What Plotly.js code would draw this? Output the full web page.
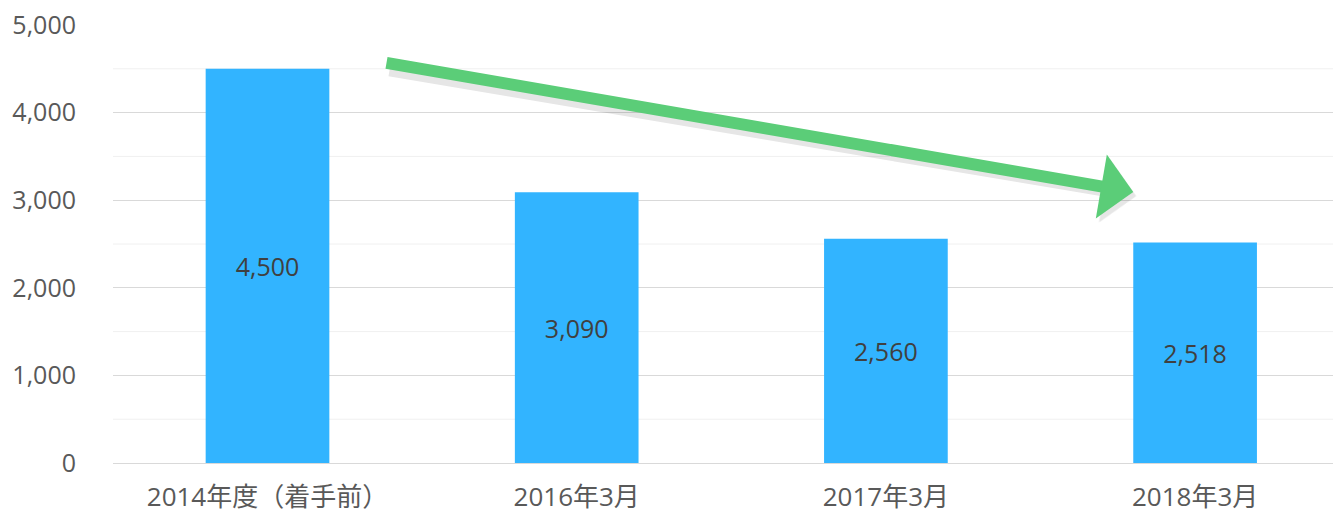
<!DOCTYPE html>
<html>
<head>
<meta charset="utf-8">
<script src="https://cdn.plot.ly/plotly-3.0.1.min.js"></script>
<style>html,body{margin:0;padding:0;background:#fff;}#chart{width:1333px;height:514px;}</style>
</head>
<body>
<div id="chart"></div>
<script>
const categories = ["2014年度（着手前）", "2016年3月", "2017年3月", "2018年3月"];
const values = [4500, 3090, 2560, 2518];
const yTickVals = [0, 1000, 2000, 3000, 4000, 5000];
const yTickText = ["0", "1,000", "2,000", "3,000", "4,000", "5,000"];
const minorGrid = [500, 1500, 2500, 3500, 4500];
// arrow endpoints (data coordinates: category index, value)
const arrowTail = [0.38, 4570];
const arrowTip = [2.80, 3094];

const fontFam = '"Open Sans", "Noto Sans CJK JP", sans-serif';

const trace = {
  type: 'bar',
  x: [0, 1, 2, 3],
  y: values,
  width: 0.4,
  marker: {color: '#32b4ff', line: {width: 0}},
  text: values.map(v => v.toLocaleString('en-US')),
  textposition: 'inside',
  insidetextanchor: 'middle',
  textangle: 0,
  textfont: {family: fontFam, size: 25, color: '#404040'},
  hoverinfo: 'skip'
};

const shapes = minorGrid.map(v => ({
  type: 'line', xref: 'paper', x0: 0, x1: 1, yref: 'y', y0: v, y1: v,
  line: {color: '#f0f0f0', width: 1}, layer: 'below'
}));

const layout = {
  width: 1333, height: 514,
  margin: {l: 113, r: 0, t: 25, b: 51},
  paper_bgcolor: '#ffffff', plot_bgcolor: '#ffffff',
  showlegend: false,
  font: {family: fontFam, color: '#595959'},
  xaxis: {
    range: [-0.4997, 3.446],
    tickvals: [0, 1, 2, 3],
    ticktext: categories,
    tickfont: {family: fontFam, size: 26, color: '#595959'},
    showgrid: false, zeroline: false,
    showline: false,
    ticks: 'outside', ticklen: 11, tickcolor: 'rgba(0,0,0,0)',
    fixedrange: true
  },
  yaxis: {
    range: [0, 5000],
    tickvals: yTickVals,
    ticktext: yTickText,
    tickfont: {family: fontFam, size: 25, color: '#595959'},
    showgrid: true, gridcolor: '#d9d9d9', gridwidth: 1,
    zeroline: true, zerolinecolor: '#d9d9d9', zerolinewidth: 1,
    ticks: 'outside', ticklen: 31, tickcolor: 'rgba(0,0,0,0)',
    fixedrange: true
  },
  shapes: shapes,
  annotations: [
    {
      x: arrowTip[0], y: arrowTip[1], xref: 'x', yref: 'y',
      ax: arrowTail[0], ay: arrowTail[1] - 40, axref: 'x', ayref: 'y',
      text: '', showarrow: true, arrowhead: 1, arrowsize: 0.9, arrowwidth: 12,
      arrowcolor: 'rgba(0,0,0,0.10)', xshift: 3, yshift: -4
    },
    {
      x: arrowTip[0], y: arrowTip[1], xref: 'x', yref: 'y',
      ax: arrowTail[0], ay: arrowTail[1], axref: 'x', ayref: 'y',
      text: '', showarrow: true, arrowhead: 1, arrowsize: 0.9, arrowwidth: 12,
      arrowcolor: '#5bcd78'
    }
  ]
};

Plotly.newPlot('chart', [trace], layout, {displayModeBar: false, staticPlot: true});
</script>
</body>
</html>
